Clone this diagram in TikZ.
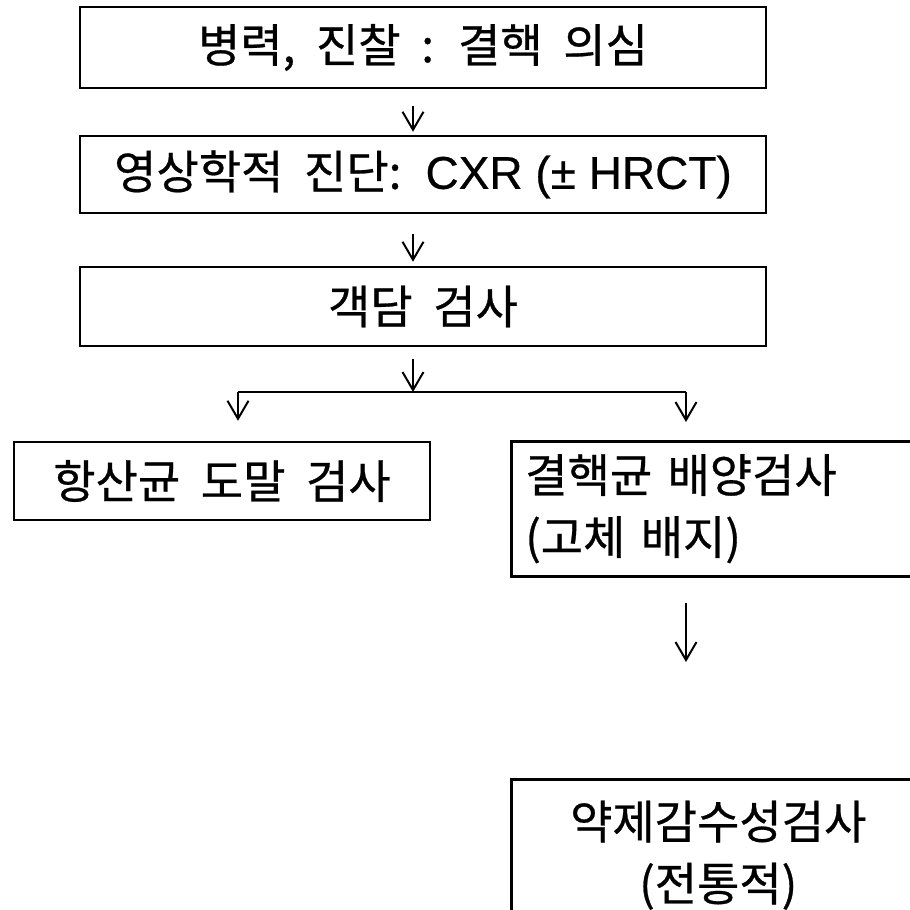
\documentclass[tikz,border=0pt]{standalone}
\usepackage{fontspec}
\setmainfont{Liberation Sans}[FakeBold=0.5]
\newfontfamily\kr{Noto Sans CJK KR}[WordSpace=2,FakeBold=0.6]
\usetikzlibrary{arrows.meta,calc}
\begin{document}
\begin{tikzpicture}[x=1pt,y=-1pt,
  box/.style={draw,line width=2.5pt,inner sep=0pt,font=\kr\fontsize{46}{62}\selectfont},
  link/.style={line width=2pt},
  arr/.style={line width=2pt,-{Straight Barb[length=18pt,width=21pt,line width=2pt]}},
]
\useasboundingbox (0,0) rectangle (910,910);
\fill[white] (0,0) rectangle (910,910);
\begin{scope}
\clip (0,0) rectangle (910,910);
\node[box,minimum width=686pt,minimum height=81pt] (b1) at (423,47.5) {병력, 진찰 : 결핵 의심};
\node[box,minimum width=686pt,minimum height=77pt] (b2) at (423,174.5) {영상학적 진단: {\rmfamily CXR (± HRCT)}};
\node[box,minimum width=686pt,minimum height=79pt] (b3) at (423,306.5) {객담 검사};
\node[box,minimum width=416pt,minimum height=78pt] (b4) at (222,481) {항산균 도말 검사};
\node[box,anchor=north west,minimum height=135pt,text width=390pt,inner xsep=14pt,align=left] (b5) at (510,440) {결핵균 배양검사\\(고체 배지)};
\node[box,anchor=north west,minimum height=152pt,text width=414pt,align=center] (b6) at (510,778) {약제감수성검사\\(전통적)};
\coordinate (ax) at (413,0);
\coordinate (jc) at (413,392);
\coordinate (jl) at (238,392);
\coordinate (jr) at (686,392);
\draw[arr] ($(b1.south -| ax)+(0,17)$) -- ($(b2.north -| ax)+(0,-3)$);
\draw[arr] ($(b2.south -| ax)+(0,20)$) -- ($(b3.north -| ax)+(0,-4)$);
\draw[arr] ($(b3.south -| ax)+(0,12)$) -- (jc);
\draw[link] (jl) -- (jr);
\draw[arr] (jl) -- ($(b4.north -| jl)+(0,-20)$);
\draw[arr] (jr) -- ($(b5.north -| jr)+(0,-18)$);
\draw[arr] ($(b5.south -| jr)+(0,25)$) -- ($(b6.north -| jr)+(0,-116)$);
\end{scope}
\end{tikzpicture}
\end{document}
